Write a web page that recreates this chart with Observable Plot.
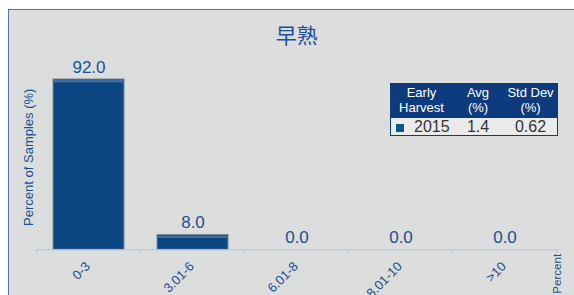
<!DOCTYPE html>
<html>
<head>
<meta charset="utf-8">
<script src="https://cdn.jsdelivr.net/npm/d3@7"></script>
<script src="https://cdn.jsdelivr.net/npm/@observablehq/plot@0.6"></script>
<style>
  html, body { margin: 0; padding: 0; background: #ffffff; }
  #wrap { position: relative; width: 574px; height: 295px; overflow: hidden; background: #ffffff; font-family: "Liberation Sans", Arial, sans-serif; }
  #panel { position: absolute; left: 8px; top: 9px; right: -10px; bottom: -10px; background: #dcdddd; border: 1px solid #4a76ad; }
  #title { position: absolute; top: 21px; left: 0; width: 593.7px; text-align: center; font-family: "Noto Sans CJK SC", sans-serif; font-size: 21px; line-height: 26px; color: #1d4f9a; }
  #chart { position: absolute; left: 0; top: 0; }
  #legend { position: absolute; left: 390px; top: 83px; border-collapse: collapse; border: 1px solid #0d3b7d; font-family: "Liberation Sans", Arial, sans-serif; }
  #legend th { background: #0d3b7d; color: #ffffff; font-weight: normal; font-size: 13px; line-height: 14.5px; padding: 2px 0 3px 0; text-align: center; }
  #legend td { background: #ebebeb; color: #333333; font-size: 16px; line-height: 17px; padding: 0; text-align: center; }
  .sw { display: inline-block; width: 8px; height: 8px; background: #0b5a8a; margin: 0 10px 0 0; vertical-align: 0px; }
</style>
</head>
<body>
<div id="wrap">
  <div id="panel"></div>
  <div id="chart"></div>
  <div id="title"></div>
  <table id="legend"></table>
</div>
<script>
const titleText = "早熟";
const categories = ["0-3", "3.01-6", "6.01-8", "8.01-10", ">10"];
const values = [92.0, 8.0, 0.0, 0.0, 0.0];
const yLabel = "Percent of Samples (%)";
const xLabel = "Percent";
const legendHeaders = [["Early", "Harvest"], ["Avg", "(%)"], ["Std Dev", "(%)"]];
const legendYear = "2015";
const legendAvg = "1.4";
const legendStd = "0.62";

const data = categories.map((c, i) => ({cat: c, v: values[i]}));

const W = 574, H = 295;
const mL = 35.5, mR = 15.8, mT = 64.2, mB = 45.7;
const step = (W - mL - mR) / categories.length;
const blue = "#1b4f94";
const axisCol = "#b3c7dd";

const chart = Plot.plot({
  width: W,
  height: H,
  marginLeft: mL,
  marginRight: mR,
  marginTop: mT,
  marginBottom: mB,
  style: {background: "transparent", fontFamily: "Liberation Sans, Arial, sans-serif", overflow: "visible"},
  x: {domain: categories, paddingInner: 0.32, paddingOuter: 0.16, axis: null},
  y: {domain: [0, 100], axis: null},
  marks: [
    Plot.barY(data.filter(d => d.v > 0), {x: "cat", y: "v", fill: "#0b4582", stroke: "#7f8792", strokeWidth: 1}),
    Plot.tickY(data.filter(d => d.v > 0), {x: "cat", y: "v", stroke: "#3f6da6", strokeWidth: 2.5, dy: 1.8, inset: 1}),
    Plot.ruleY([0], {stroke: axisCol, strokeWidth: 1}),
    Plot.axisX({ticks: categories, tickSize: 4, dx: -step / 2, tickFormat: () => "", stroke: axisCol, label: null}),
    Plot.axisX({ticks: categories.slice(-1), tickSize: 4, dx: step / 2, tickFormat: () => "", stroke: axisCol, label: null}),
    Plot.text(data, {x: "cat", y: "v", text: d => d.v.toFixed(1), lineAnchor: "bottom", dy: -6.8, fontSize: 17, fill: blue}),
    Plot.text(categories, {x: d => d, frameAnchor: "bottom", rotate: -45, textAnchor: "end", lineAnchor: "middle", dx: -1, dy: 14.5, fontSize: 13, fill: blue}),
    Plot.text([yLabel], {frameAnchor: "left", rotate: -90, textAnchor: "middle", lineAnchor: "middle", dx: -7.5, fontSize: 13, fill: blue}),
    Plot.text([xLabel], {frameAnchor: "bottom-right", rotate: -90, textAnchor: "start", lineAnchor: "middle", dx: -1.5, dy: 44, fontSize: 11.6, fill: blue})
  ]
});
document.getElementById("chart").appendChild(chart);
document.getElementById("title").textContent = titleText;

const table = document.getElementById("legend");
const widths = [61, 52, 53];
const hr = document.createElement("tr");
legendHeaders.forEach((h, i) => {
  const th = document.createElement("th");
  th.style.width = widths[i] + "px";
  th.innerHTML = h.join("<br>");
  hr.appendChild(th);
});
table.appendChild(hr);
const br = document.createElement("tr");
const c1 = document.createElement("td");
c1.style.textAlign = "left";
c1.style.paddingLeft = "5px";
c1.innerHTML = '<span class="sw"></span>' + legendYear;
br.appendChild(c1);
[legendAvg, legendStd].forEach(t => {
  const td = document.createElement("td");
  td.textContent = t;
  br.appendChild(td);
});
table.appendChild(br);
</script>
</body>
</html>
